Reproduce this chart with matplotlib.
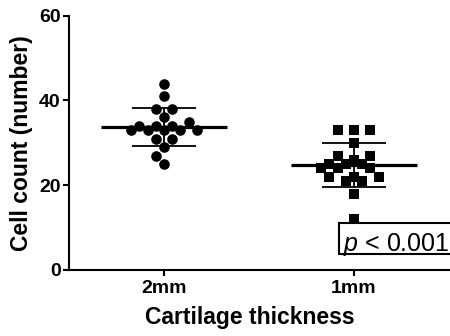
import numpy as np
import matplotlib
matplotlib.use('Agg')
import matplotlib.pyplot as plt
from matplotlib.patches import Rectangle

# ---- data (listed in the order the points are laid out in the swarm) ----
categories = ['2mm', '1mm']
values_2mm = [33, 33, 33, 33, 33, 34, 34, 34, 35, 36, 38, 38, 41, 44, 31, 31, 29, 27, 25]
values_1mm = [26, 25, 25, 25, 24, 24, 24, 27, 27, 30, 33, 33, 33, 22, 22, 22, 21, 21, 18, 12]
yticks = [0, 20, 40, 60]
xlabel = 'Cartilage thickness'
ylabel = 'Cell count (number)'

plt.rcParams['font.family'] = ['Liberation Sans', 'DejaVu Sans']
plt.rcParams['mathtext.fontset'] = 'custom'
plt.rcParams['mathtext.it'] = 'Liberation Sans:italic'
plt.rcParams['mathtext.rm'] = 'Liberation Sans'

W, H = 450, 336
fig = plt.figure(figsize=(W / 100, H / 100), dpi=100)
ax = fig.add_axes([69 / W, 66 / H, 380 / W, 254.3 / H])
ax.set_xlim(-0.5, 1.5)
ax.set_ylim(0, 60)

for s in ['top', 'right']:
    ax.spines[s].set_visible(False)
for s in ['left', 'bottom']:
    ax.spines[s].set_linewidth(1.5)
    ax.spines[s].set_color('black')

ax.set_yticks(yticks)
ax.set_xticks(range(len(categories)))
ax.set_xticklabels(categories)
ax.tick_params(axis='both', direction='out', length=4.5, width=1.5,
               labelsize=14, colors='black')
for lab in ax.get_xticklabels() + ax.get_yticklabels():
    lab.set_fontweight('bold')
ax.tick_params(axis='y', pad=1.5)
ax.tick_params(axis='x', pad=2.5)

ax.set_ylabel(ylabel, fontsize=16.5, fontweight='bold', labelpad=4)
ax.set_xlabel(xlabel, fontsize=16.5, fontweight='bold')
ax.xaxis.set_label_coords((250 - 69) / 380, -0.14)
ax.xaxis.label.set_va('top')


def swarm(vals, xc, d, step):
    vals = np.asarray(vals, dtype=float)
    pts = ax.transData.transform(np.column_stack([np.full(len(vals), xc), vals]))
    placed = []
    xs = []
    for px, py in pts:
        best = None
        for k in range(0, 60):
            for sgn in ([0] if k == 0 else [-1, 1]):
                cx = px + sgn * k * step
                ok = all((cx - qx) ** 2 + (py - qy) ** 2 >= d * d
                         for qx, qy in placed)
                if ok:
                    best = cx
                    break
            if best is not None:
                break
        placed.append((best, py))
        xs.append(best)
    back = ax.transData.inverted().transform(np.column_stack([xs, pts[:, 1]]))
    return back[:, 0]


groups = [values_2mm, values_1mm]
markers = ['o', 's']
msize = [58, 56]
for i, vals in enumerate(groups):
    xs = swarm(vals, i, 9.2, 8.2)
    ax.scatter(xs, vals, marker=markers[i], s=msize[i], color='black',
               linewidths=0, zorder=4, clip_on=False)
    m = np.mean(vals)
    sd = np.std(vals, ddof=1)
    ax.hlines(m, i - 0.33, i + 0.33, color='black', lw=2.3, zorder=3)
    ax.hlines([m - sd, m + sd], i - 0.17, i + 0.17, color='black', lw=1.3, zorder=3)
    ax.vlines(i, m - sd, m + sd, color='black', lw=1.3, zorder=3)

# p-value box
x0 = (339 - 69) / 380
y0 = (270 - 254) / 254.3
y1 = (270 - 223) / 254.3
ax.add_patch(Rectangle((x0, y0), 0.5, y1 - y0, transform=ax.transAxes,
                       fill=True, facecolor='white', edgecolor='black',
                       lw=1.5, zorder=2, clip_on=False))
ax.text((343 - 69) / 380, (270 - 250.5) / 254.3, r'$\mathit{p}$ < 0.001',
        transform=ax.transAxes, fontsize=18, va='baseline', ha='left', zorder=2.5)

fig.savefig('out.png', dpi=100)
